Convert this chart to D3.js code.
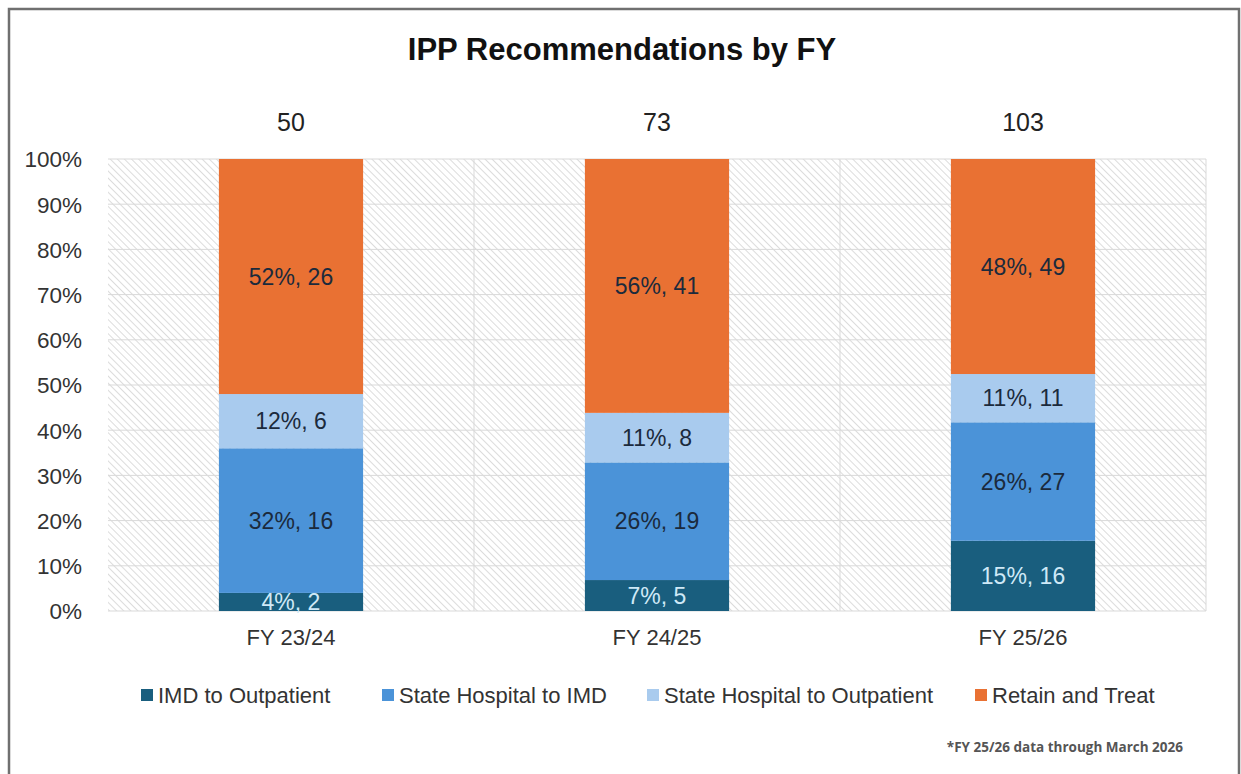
<!DOCTYPE html>
<html>
<head>
<meta charset="utf-8">
<script src="https://cdn.jsdelivr.net/npm/d3@7"></script>
<style>
	body { margin: 0; background: #fff; }
	text { font-family: "Liberation Sans Narrow", "Arial Narrow", "Liberation Sans", Arial, sans-serif; }
</style>
</head>
<body>
<svg id="svg"></svg>
<script>
const years = ['FY 23/24', 'FY 24/25', 'FY 25/26'];
const seriesNames = ['IMD to Outpatient', 'State Hospital to IMD', 'State Hospital to Outpatient', 'Retain and Treat'];
const imdToOutpatient = [2, 5, 16];
const stateToImd = [16, 19, 27];
const stateToOutpatient = [6, 8, 11];
const retainAndTreat = [26, 41, 49];
// percent labels as printed on the chart
const imdToOutpatientPct = [4, 7, 15];
const stateToImdPct = [32, 26, 26];
const stateToOutpatientPct = [12, 11, 11];
const retainAndTreatPct = [52, 56, 48];
const yTicks = [0, 0.1, 0.2, 0.3, 0.4, 0.5, 0.6, 0.7, 0.8, 0.9, 1];

const colors = ['#195e7e', '#4b93d8', '#a9cbee', '#e97133'];
const labelColors = ['#cfe9f7', '#1b2a3c', '#1b2a3c', '#1b2a3c'];

const width = 1241, height = 774;
const svg = d3.select('#svg').attr('width', width).attr('height', height);

// frame
svg.append('rect')
	.attr('x', 9).attr('y', 9)
	.attr('width', 1230).attr('height', 800)
	.attr('fill', '#fff')
	.attr('stroke', '#707070')
	.attr('stroke-width', 2.5);

const plot = { left: 108, right: 1206, top: 159, bottom: 611 };

// hatch pattern for the plot background
const defs = svg.append('defs');
const pat = defs.append('pattern')
	.attr('id', 'hatch')
	.attr('patternUnits', 'userSpaceOnUse')
	.attr('width', 5).attr('height', 5)
	.attr('patternTransform', 'rotate(-45)');
pat.append('rect').attr('width', 5).attr('height', 5).attr('fill', '#fff');
pat.append('line')
	.attr('x1', 0).attr('y1', 0).attr('x2', 0).attr('y2', 5)
	.attr('stroke', '#dcdcdc').attr('stroke-width', 2);

const x = d3.scaleBand()
	.domain(years)
	.range([plot.left, plot.right])
	.paddingInner(0)
	.paddingOuter(0);
const y = d3.scaleLinear().domain([0, 1]).range([plot.bottom, plot.top]);
const barWidth = x.bandwidth() * 0.394;

svg.append('rect')
	.attr('x', plot.left).attr('y', plot.top)
	.attr('width', plot.right - plot.left).attr('height', plot.bottom - plot.top)
	.attr('fill', 'url(#hatch)');

// gridlines
svg.append('g')
	.selectAll('line')
	.data(yTicks)
	.enter().append('line')
	.attr('x1', plot.left).attr('x2', plot.right)
	.attr('y1', d => y(d)).attr('y2', d => y(d))
	.attr('stroke', '#d9d9d9').attr('stroke-width', 1);
svg.append('g')
	.selectAll('line')
	.data(years.slice(1))
	.enter().append('line')
	.attr('x1', d => x(d)).attr('x2', d => x(d))
	.attr('y1', plot.top).attr('y2', plot.bottom)
	.attr('stroke', '#d9d9d9').attr('stroke-width', 1);
svg.append('line')
	.attr('x1', plot.right).attr('x2', plot.right)
	.attr('y1', plot.top).attr('y2', plot.bottom)
	.attr('stroke', '#d9d9d9');

// y axis
const yAxis = svg.append('g')
	.attr('transform', `translate(${plot.left - 26},0)`)
	.call(d3.axisLeft(y).tickValues(yTicks).tickFormat(d3.format('.0%')).tickSize(0).tickPadding(0));
yAxis.select('.domain').remove();
yAxis.selectAll('text')
	.attr('font-size', 22.5)
	.attr('fill', '#333')
	.attr('dy', '0.35em')
	.attr('font-family', '"Liberation Sans Narrow", "Liberation Sans", sans-serif');

// x axis
const xAxis = svg.append('g')
	.attr('transform', `translate(0,${plot.bottom + 17})`)
	.call(d3.axisBottom(x).tickSize(0).tickPadding(0));
xAxis.select('.domain').remove();
xAxis.selectAll('text')
	.attr('font-size', 22)
	.attr('fill', '#333')
	.attr('dy', '0.75em')
	.attr('font-family', '"Liberation Sans Narrow", "Liberation Sans", sans-serif');

// stacked data
const counts = [imdToOutpatient, stateToImd, stateToOutpatient, retainAndTreat];
const pcts = [imdToOutpatientPct, stateToImdPct, stateToOutpatientPct, retainAndTreatPct];
const rows = years.map((yr, i) => {
	const total = d3.sum(counts, c => c[i]);
	const row = { year: yr, total: total };
	counts.forEach((c, k) => { row['s' + k] = c[i] / total; });
	return row;
});
const stack = d3.stack().keys(['s0', 's1', 's2', 's3']);
const layers = stack(rows);

const layerG = svg.selectAll('g.layer')
	.data(layers)
	.enter().append('g')
	.attr('class', 'layer');

layerG.selectAll('rect')
	.data(d => d)
	.enter().append('rect')
	.attr('x', d => x(d.data.year) + (x.bandwidth() - barWidth) / 2)
	.attr('y', d => y(d[1]))
	.attr('width', barWidth)
	.attr('height', d => y(d[0]) - y(d[1]))
	.attr('fill', function() { return colors[d3.select(this.parentNode).datum().index]; });

// segment labels
layerG.each(function(layer) {
	const k = layer.index;
	d3.select(this).selectAll('text')
		.data(layer)
		.enter().append('text')
		.attr('x', d => x(d.data.year) + x.bandwidth() / 2)
		.attr('y', d => (y(d[0]) + y(d[1])) / 2)
		.attr('dy', '0.36em')
		.attr('text-anchor', 'middle')
		.attr('font-size', 23)
		.attr('fill', labelColors[k])
		.text((d, i) => pcts[k][i] + '%, ' + counts[k][i]);
});

// totals
svg.selectAll('text.total')
	.data(rows)
	.enter().append('text')
	.attr('class', 'total')
	.attr('x', d => x(d.year) + x.bandwidth() / 2)
	.attr('y', 131)
	.attr('text-anchor', 'middle')
	.attr('font-size', 25)
	.attr('fill', '#222')
	.style('font-family', '"Liberation Sans", Arial, sans-serif')
	.text(d => d.total);

// title
svg.append('text')
	.attr('x', 622).attr('y', 60)
	.attr('text-anchor', 'middle')
	.attr('font-size', 31)
	.attr('font-weight', 'bold')
	.attr('fill', '#111')
	.text('IPP Recommendations by FY');

// legend
const legendX = [141, 382, 647, 975];
const legend = svg.selectAll('g.legend')
	.data(seriesNames)
	.enter().append('g')
	.attr('class', 'legend')
	.attr('transform', (d, i) => `translate(${legendX[i]}, 695)`);
legend.append('rect')
	.attr('x', 0).attr('y', -6)
	.attr('width', 12).attr('height', 12)
	.attr('fill', (d, i) => colors[i]);
legend.append('text')
	.attr('x', 17).attr('y', 0)
	.attr('dy', '0.36em')
	.attr('font-size', 22)
	.attr('fill', '#333')
	.text(d => d);

// footnote
svg.append('text')
	.attr('x', 1183).attr('y', 752)
	.attr('text-anchor', 'end')
	.attr('font-size', 13.5)
	.attr('font-weight', 'bold')
	.attr('fill', '#555')
	.style('font-family', '"Open Sans", "Noto Sans", sans-serif')
	.text('*FY 25/26 data through March 2026');
</script>
</body>
</html>
